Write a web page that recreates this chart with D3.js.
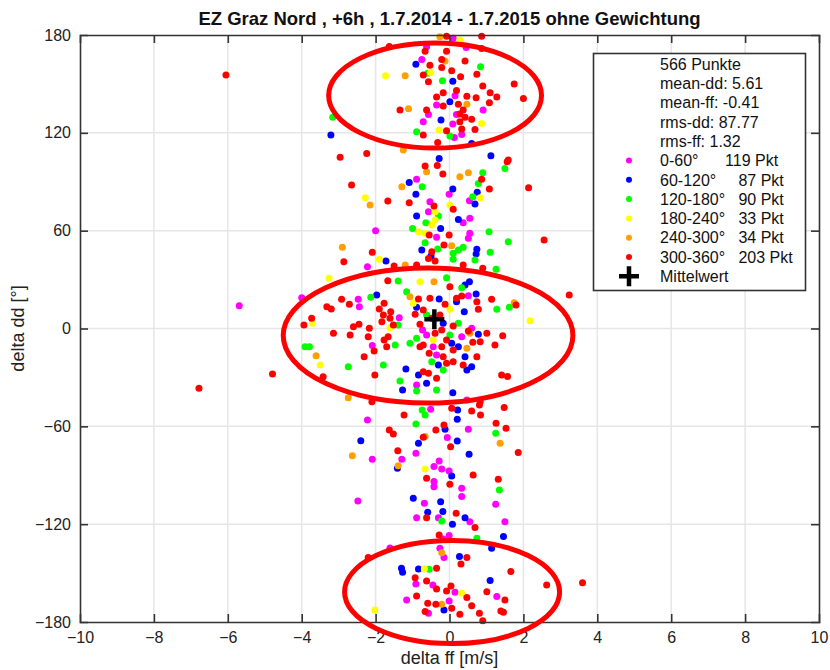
<!DOCTYPE html>
<html>
<head>
  <meta charset="utf-8">
  <style>
    body{ margin:0; background:#fff; font-family:"Liberation Sans", Arial, sans-serif; }
    .tick text{ font-size:16px; fill:#222; }
    .legend-text{ font-size:16px; fill:#111; white-space:pre; }
  </style>
  <script src="https://d3js.org/d3.v7.min.js"></script>
</head>
<body>
<div id="chart"></div>
<script>
// direction bins (legend) and counts
const binLabels = ['0-60°', '60-120°', '120-180°', '180-240°', '240-300°', '300-360°'];
const binCounts = [119, 87, 90, 33, 34, 203];
const binColors = ['#ff00ff', '#0000ff', '#00ff00', '#ffff00', '#ffa000', '#ff0000'];

// summary stats
const nPoints = 566;
const meanDD = 5.61, meanFF = -0.41, rmsDD = 87.77, rmsFF = 1.32;

// [delta ff (m/s), delta dd (deg)]
const pts0_60 = [
  [0.1,178],[-0.62,172.8],[0.45,172.4],[-0.75,165],[0.15,142.7],[-0.35,137],[0.91,134],[0.19,131.3],
  [-0.57,131.3],[-0.71,126.8],[0.09,125.4],[0.33,119],[0.13,117.2],
  [-0.89,91.5],[-0.01,82.3],[-0.53,77.8],[0.54,78.4],[-0.57,71.6],[0.55,67.6],[0.37,64.9],[-2.0,60],
  [0.55,58.4],[-0.35,55.9],[0.51,55.3],[-2.22,37.9],
  [-4.0,18.9],[-2.47,17.9],[-2.44,13.4],[-1.36,6.6],[0.51,20.1],[-0.73,-0.9],[-0.62,-4],[0.33,-5],
  [0.6,0.1],[-2.09,-10.5],[-0.44,-11.2],[-0.35,-16.2],[-0.89,-34.6],[0.47,-43.8],[-5.69,14],
  [-0.51,-49.5],[-2.22,-56.1],[0.51,-61.8],[-0.06,-66.9],[-0.91,-76.5],[-2.09,-80.2],[-1.29,-80.2],
  [-0.28,-81.2],[-0.42,-84.7],[-0.21,-86.1],[-0.01,-87.4],[-0.42,-93.9],[-0.42,-97],[0.33,-98],
  [0.33,-103.1],[-2.48,-105.8],[-0.68,-107.2],[1.25,-107.8],[-0.89,-116],[-0.3,-116],[0.55,-118.5],
  [1.5,-118.5],[-0.01,-127],[-0.17,-129.1],[-0.26,-134.8],[-0.15,-140.5],[-1.61,-134.6],
  [-0.91,-156.7],[-0.45,-157.3],[0.15,-161.7],[1.28,-164.4],[-1.16,-166.5],[-0.01,-167.1],[-0.57,-174.6]
];
const pts60_120 = [
  [-0.91,162],[0.09,151.7],[0.01,139],[-0.23,127.8],[-3.21,118.6],[0.6,113.5],[-0.28,104.3],[1.12,106],
  [-1.09,89.6],[0.09,85.5],[-0.91,82.3],[0.75,83.5],[0.69,76.3],[-0.89,69],[0.24,66.9],[-0.24,61.4],
  [0.74,48.6],[-0.75,48.1],[0.72,45.7],[-1.72,41.4],[-0.5,44.5],
  [0.54,28.7],[0.42,26.7],[-1.97,20.5],[-0.89,13],[-0.28,18.1],[0.19,16.4],[0.72,21.2],[0.4,10.3],
  [-0.17,3.2],[0.78,-3.6],[0.06,-9.1],[0.24,-11.2],[-0.3,-22.4],[0.42,-17.3],[0.47,-25.4],[0.6,-23.4],
  [-1.18,-24.8],[-0.84,-28.5],[-1.27,-37.7],[-0.62,-33.6],[0.09,-39.4],
  [0.22,-50],[0.21,-55.7],[-0.12,-61.8],[-2.4,-68.8],[0.21,-69],[-0.84,-70.4],[0.53,-77.1],
  [-1.41,-85.7],[0.06,-90.4],[-0.98,-104.1],[-0.24,-106.2],[-0.59,-112.7],[-0.18,-112.3],[0.42,-116],
  [0.08,-120],[1.46,-127.6],[1.14,-134.8],[0.27,-139.9],[-1.27,-149.5],[-1.3,-147],[-0.84,-147.5],
  [1.1,-154.6],[-0.15,-172.6]
];
const pts120_180 = [
  [-0.59,156.5],[0.84,160.5],[-0.19,152],[-3.16,129.5],[-0.89,120.7],[0.01,118],
  [1.5,98.2],[0.9,95.5],[0.78,89],[-0.74,86.9],[0.63,80.8],[-0.3,69],[-0.64,64.9],[-1.0,61.4],
  [1.07,59.3],[1.59,53.2],[-0.66,52.6],[0.37,49.8],[0.24,48.1],[-0.32,48.7],[0.1,46.1],[1.1,46.7],
  [0.1,42.4],[0.69,42],[1.26,36.3],
  [-1.39,29.1],[-0.08,31.2],[0.33,25],[-2.13,19.1],[-1.16,22.6],[1.28,11.8],[1.62,13],[-1.39,2.1],
  [-0.62,8.3],[0.24,3.2],[-0.89,-6],[-1.07,-9.1],[0.01,-4],[-1.47,-10.1],[-3.91,-11.2],[-3.79,-11.2],
  [-2.74,-23.4],[-1.79,-22.4],[-0.48,-20.4],[-0.17,-25.4],[-1.34,-32.2],[-0.89,-38.3],[-0.35,-37.7],
  [-0.74,-50],[-0.66,-53],[-0.91,-58.6],[1.25,-64.3],[1.35,-99],[-0.21,-118],
  [0.74,-128.6],[-0.55,-147.6]
];
const pts180_240 = [
  [0.28,177],[-1.73,155],[-0.51,157],[0.87,125.8],[-0.28,121.7],
  [-2.28,80.2],[0.01,75.7],[0.83,80.2],[-0.39,71.6],[-0.39,66.5],[-0.48,63.5],[-0.84,59.3],
  [-0.66,58.4],[-1.9,42.4],[-3.26,30.8],
  [-0.8,28.7],[-0.98,15.5],[0.01,11.8],[2.18,4.8],[-3.71,3.2],[-1.61,0.5],[-0.44,-7.1],[-3.5,-22.4],
  [-0.66,-86.1],[-0.68,-147.5],[0.33,-162.4],[-2.02,-172.6]
];
const pts240_300 = [
  [-0.26,179],[-0.12,164],[-1.2,155],[0.47,137.6],[-1.11,134.8],[-1.25,109.4],
  [-0.62,96.1],[0.28,93.1],[0.51,95.5],[-1.29,86.9],[-2.15,75.7],[-2.9,49.8],[0.06,50.8],[-1.2,38.9],
  [-0.42,28.7],[-1.07,19.5],[1.75,15.8],[0.55,-2.9],[-3.61,-16.7],[0.47,-12.1],[-2.74,-42.4],
  [-0.66,-66.3],[1.37,-70.4],[-2.63,-78],[-1.39,-84.1],[-0.21,-137.5],[-0.21,-169.1]
];
const pts300_360 = [
  [-0.08,179.3],[0.87,179.3],[-1.63,173],[-0.66,170],[-0.08,170],[0.87,171.7],[-0.53,161.5],
  [-0.21,165],[0.42,164],[-0.21,160],[0.06,158],[-0.71,155.4],[-0.57,151.3],[0.3,154.4],[0.74,156],
  [1.75,150],[0.9,148.7],[0.19,146],[-0.17,144.6],[-0.35,142],[0.47,142.5],[0.72,141.5],[1.1,144.6],
  [1.28,142],[2.0,141],[0.24,137.6],[-0.17,136.4],[1.08,138.4],[-1.34,134],[-0.62,134],[0.37,134],
  [0.28,131.5],[0.42,129.5],[0.6,128.3],[0.28,126.8],[0.33,122.3],[0.69,122],[-0.08,121.3],
  [-0.71,118.6],[-0.32,114],[-2.96,105],[-2.24,107.4],[1.59,103.3],[-6.05,155.4],
  [-0.66,99.6],[-0.33,100],[1.56,102.3],[-0.18,94.7],[0.87,91.5],[-2.65,88],[1.08,85.5],[2.14,86.3],
  [-1.67,78.2],[-1.09,77.1],[-0.42,75.1],[0.1,73.1],[-0.01,57.3],[-0.55,57.3],[2.56,54.3],
  [-0.15,51.2],[-0.48,47.1],[-2.09,46.7],[-2.86,41],[-0.57,43],[-0.39,41.4],[-1.5,38.3],[-0.89,38.9],
  [0.37,38.9],[0.9,36.9],
  [-1.67,29.3],[0.01,25.6],[3.24,20.5],[-2.92,17.9],[-2.71,14.8],[-1.77,15.5],[-1.9,12],[-0.84,18.1],
  [-0.71,11.3],[-0.53,18.5],[-0.12,14.8],[0.19,18.5],[0.33,19.9],[0.74,16.4],[0.78,11.8],[1.14,17.9],
  [1.8,14.4],[-3.32,13.4],[-3.2,12],[-3.73,6.3],[-3.94,2.1],[-1.79,8.3],[-1.61,6.3],[-1.52,2.1],
  [-1.83,4.2],[-1.59,10.3],[-2.6,1.1],[-2.45,2.6],[-2.69,-4],[-3.14,-2.9],[-2.17,0.1],[-2.2,-5],
  [-0.93,8.7],[-0.8,2.6],[-0.48,6.3],[-0.26,8.3],[0.1,1.5],[-0.21,-0.9],[-0.39,-2.9],[-0.8,-11.2],
  [-0.08,-7.1],[0.51,-1.5],[1.01,-2.9],[0.83,-8.1],[1.44,-4.4],[1.23,-10.1],[0.63,-8.5],[-1.66,-5],
  [-1.77,-7.1],[-1.7,-11.2],[-2.04,-13.8],[-2.31,-17.3],[-3.42,-29.6],[-2.02,-28.5],[-0.71,-10.1],
  [-0.21,-11.2],[0.1,-13.2],[-0.55,-15.2],[-0.17,-17.3],[-0.08,-21.3],[0.1,-20.4],[0.37,-22.4],
  [0.74,-17.3],[1.41,-28.5],[1.57,-29.5],[-0.71,-26.5],[-0.57,-27.5],[-0.35,-30.5],[-2.1,-44.9],
  [0.83,-44.9],[-4.79,-27.9],[-6.78,-36.7],
  [0.06,-48.9],[-1.23,-53],[0.6,-50.6],[0.81,-46.9],[0.84,-53],[1.48,-48.5],[-0.15,-59.2],
  [-0.37,-62.2],[-1.63,-62.2],[-1.52,-64.7],[1.26,-58.1],[1.53,-61.2],[-0.71,-66.7],[0.03,-72.5],
  [-1.4,-74.9],[1.86,-76.1],[0.64,-89.8],[-0.62,-91.9],[0.01,-95.5],[1.32,-92.5],[-0.62,-116],
  [0.18,-113.3],
  [0.69,-122.1],[-0.28,-126.6],[-2.2,-140.5],[0.47,-140.5],[0.31,-144.4],[-0.35,-147],[1.66,-149.1],
  [-0.93,-152.8],[-0.62,-154.8],[-0.35,-159.7],[-0.08,-161],[0.04,-157.9],[2.63,-157.3],[3.6,-155.9],
  [1.01,-161.4],[0.47,-165],[1.5,-166.5],[-0.89,-164],[-0.59,-168.5],[-0.37,-169.1],[0.06,-171.5],
  [-0.66,-173.6],[0.28,-175.2],[0.6,-170],[0.81,-174.6],[0.9,-179.3],[1.39,-173.2],[1.46,-174]
];
const binPoints = [pts0_60, pts60_120, pts120_180, pts180_240, pts240_300, pts300_360];

// red hand-drawn ellipses: [centre ff, centre dd, radius ff, radius dd]
const markEllipses = [[-0.39, 142.9, 2.88, 32.2], [-0.58, -4.3, 3.92, 41.4], [0.07, -161.6, 2.91, 31.6]];

const xTicks = d3.range(-10, 11, 2);
const yTicks = d3.range(-180, 181, 60);

const width = 830, height = 670;
const plot = {left: 80, right: 819, top: 35, bottom: 622};

const svg = d3.select('#chart').append('svg')
  .attr('width', width).attr('height', height);

const x = d3.scaleLinear().domain([-10, 10]).range([plot.left, plot.right]);
const y = d3.scaleLinear().domain([-180, 180]).range([plot.bottom, plot.top]);

// grid
svg.append('g').selectAll('line').data(xTicks.slice(1, -1)).join('line')
  .attr('x1', d => x(d)).attr('x2', d => x(d))
  .attr('y1', plot.top).attr('y2', plot.bottom)
  .attr('stroke', '#e6e6e6').attr('stroke-width', 1.5);
svg.append('g').selectAll('line').data(yTicks.slice(1, -1)).join('line')
  .attr('y1', d => y(d)).attr('y2', d => y(d))
  .attr('x1', plot.left).attr('x2', plot.right)
  .attr('stroke', '#e6e6e6').attr('stroke-width', 1.5);

// points
binPoints.forEach((pts, i) => {
  svg.append('g').selectAll('circle').data(pts).join('circle')
    .attr('cx', d => x(d[0]))
    .attr('cy', d => y(d[1]))
    .attr('r', 3.5)
    .attr('fill', binColors[i]);
});

// mean marker
function cross(g, cx, cy, s){
  g.append('path')
    .attr('d', `M${cx - s},${cy}H${cx + s}M${cx},${cy - s}V${cy + s}`)
    .attr('stroke', '#000').attr('stroke-width', 4.5).attr('fill', 'none');
}
cross(svg, x(meanFF), y(meanDD), 10);

// axes (ticks inward on all four sides)
const tick = 8;
const axisColor = '#333';
const xb = svg.append('g').attr('transform', `translate(0,${plot.bottom})`)
  .call(d3.axisBottom(x).tickValues(xTicks).tickSize(-tick).tickPadding(10));
const xt = svg.append('g').attr('transform', `translate(0,${plot.top})`)
  .call(d3.axisTop(x).tickValues(xTicks).tickSize(-tick).tickFormat(''));
const yl = svg.append('g').attr('transform', `translate(${plot.left},0)`)
  .call(d3.axisLeft(y).tickValues(yTicks).tickSize(-tick).tickPadding(9));
const yr = svg.append('g').attr('transform', `translate(${plot.right},0)`)
  .call(d3.axisRight(y).tickValues(yTicks).tickSize(-tick).tickFormat(''));
[xb, xt, yl, yr].forEach(g => {
  g.select('.domain').attr('stroke', axisColor).attr('stroke-width', 1.6);
  g.selectAll('.tick line').attr('stroke', axisColor).attr('stroke-width', 1.6);
  g.selectAll('.tick text').attr('font-family', '"Liberation Sans", Arial, sans-serif');
});
// no tick marks at the corners
[xb, xt].forEach(g => g.selectAll('.tick line').filter(d => d === -10 || d === 10).remove());
[yl, yr].forEach(g => g.selectAll('.tick line').filter(d => d === -180 || d === 180).remove());

// title and axis labels
svg.append('text')
  .attr('x', (plot.left + plot.right) / 2).attr('y', 25)
  .attr('text-anchor', 'middle')
  .style('font-size', '18.5px').style('font-weight', 'bold').attr('fill', '#111')
  .text('EZ Graz Nord , +6h , 1.7.2014 - 1.7.2015 ohne Gewichtung');
svg.append('text')
  .attr('x', (plot.left + plot.right) / 2).attr('y', 664)
  .attr('text-anchor', 'middle')
  .style('font-size', '18px').attr('fill', '#222')
  .text('delta ff [m/s]');
svg.append('text')
  .attr('transform', `translate(24,${(plot.top + plot.bottom) / 2}) rotate(-90)`)
  .attr('text-anchor', 'middle')
  .style('font-size', '18px').attr('fill', '#222')
  .text('delta dd [°]');

// legend
const lg = svg.append('g');
lg.append('rect')
  .attr('x', 593.5).attr('y', 53.5).attr('width', 212).attr('height', 237)
  .attr('fill', '#fff').attr('stroke', axisColor).attr('stroke-width', 1.6);

const rowH = 19.3, row0 = 64, textX = 660, markX = 629;
const pad = ['      ', '     ', '   ', '   ', '   ', '   '];
const headLines = [
  `${nPoints} Punkte`,
  `mean-dd: ${meanDD}`,
  `mean-ff: ${meanFF}`,
  `rms-dd: ${rmsDD}`,
  `rms-ff: ${rmsFF}`
];
const lines = headLines
  .concat(binLabels.map((l, i) => `${l}${pad[i]}${binCounts[i]} Pkt`))
  .concat(['Mittelwert']);

lg.selectAll('text').data(lines).join('text')
  .attr('class', 'legend-text')
  .attr('xml:space', 'preserve')
  .attr('x', textX)
  .attr('y', (d, i) => row0 + i * rowH)
  .attr('dy', '0.36em')
  .text(d => d);

lg.selectAll('circle').data(binColors).join('circle')
  .attr('cx', markX)
  .attr('cy', (d, i) => row0 + (headLines.length + i) * rowH)
  .attr('r', 3)
  .attr('fill', d => d);
cross(lg, markX, row0 + (lines.length - 1) * rowH, 10);

// red annotation ellipses
svg.append('g').selectAll('ellipse').data(markEllipses).join('ellipse')
  .attr('cx', d => x(d[0]))
  .attr('cy', d => y(d[1]))
  .attr('rx', d => x(d[2]) - x(0))
  .attr('ry', d => y(0) - y(d[3]))
  .attr('fill', 'none')
  .attr('stroke', '#ff0000')
  .attr('stroke-width', 5);
</script>
</body>
</html>
